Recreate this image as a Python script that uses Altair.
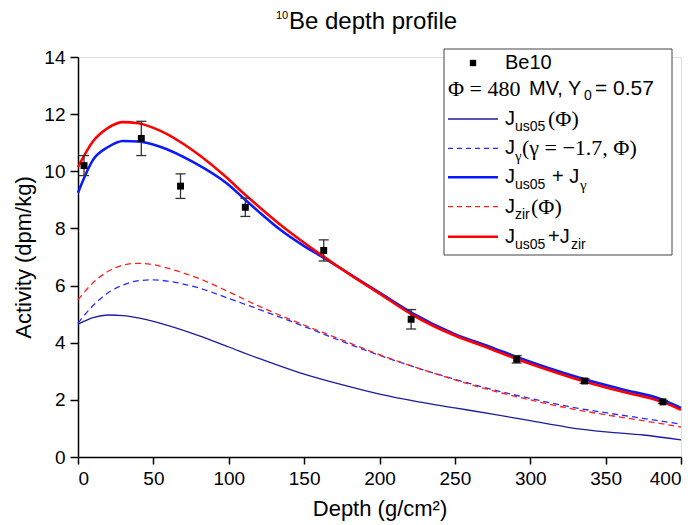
import altair as alt
import pandas as pd

# ---------------- data ----------------
# J_us05(Phi)  (thin navy line)
d_us05 = [0, 10, 20, 30, 40, 50, 60, 80, 100, 120, 150, 175, 200, 225, 250, 275, 300, 325, 350, 375, 400]
v_us05 = [4.65, 4.88, 4.97, 4.95, 4.87, 4.75, 4.6, 4.25, 3.85, 3.45, 2.9, 2.53, 2.2, 1.94, 1.72, 1.5, 1.27, 1.04, 0.88, 0.77, 0.6]

# J_gamma(gamma=-1.7, Phi)  (blue dashed)
d_gam = [0, 10, 20, 30, 40, 50, 60, 80, 100, 120, 150, 175, 200, 225, 250, 275, 300, 325, 350, 375, 400]
v_gam = [4.69, 5.3, 5.75, 6.02, 6.17, 6.2, 6.15, 5.92, 5.55, 5.17, 4.57, 4.05, 3.56, 3.12, 2.72, 2.36, 2.05, 1.77, 1.55, 1.35, 1.15]

# J_zir(Phi)  (red dashed)
d_zir = [0, 10, 20, 30, 40, 50, 60, 80, 100, 120, 150, 175, 200, 225, 250, 275, 300, 325, 350, 375, 400]
v_zir = [5.5, 6.1, 6.5, 6.72, 6.78, 6.73, 6.6, 6.25, 5.78, 5.28, 4.62, 4.1, 3.58, 3.12, 2.7, 2.32, 2.0, 1.71, 1.48, 1.27, 1.05]

# J_us05 + J_gamma (thick blue)
d_sumg = [0, 10, 20, 30, 40, 54, 76.5, 98.6, 110, 120, 134, 150, 162, 180, 200, 222, 250, 273, 291, 310, 336, 360, 388, 400]
v_sumg = [9.25, 10.4, 10.85, 11.06, 11.04, 10.87, 10.32, 9.58, 9.05, 8.58, 7.96, 7.38, 7.0, 6.41, 5.75, 5.03, 4.3, 3.86, 3.5, 3.15, 2.72, 2.38, 2.0, 1.72]

# J_us05 + J_zir (thick red)
d_sumz = [0, 10, 20, 30, 40, 54, 76.5, 98.6, 110, 120, 134, 150, 162, 180, 200, 222, 250, 273, 291, 310, 336, 360, 388, 400]
v_sumz = [10.15, 11.05, 11.52, 11.72, 11.68, 11.43, 10.72, 9.78, 9.22, 8.76, 8.14, 7.5, 7.05, 6.4, 5.72, 4.97, 4.25, 3.8, 3.43, 3.08, 2.64, 2.3, 1.92, 1.65]

# Be10 measurements
be_depth = [4, 42, 68, 111, 163, 221, 291, 336, 388]
be_act = [10.2, 11.15, 9.48, 8.74, 7.23, 4.82, 3.42, 2.66, 1.93]
be_err = [0.35, 0.6, 0.43, 0.32, 0.37, 0.34, 0.13, 0.08, 0.05]

x_ticks = list(range(0, 401, 25))
y_ticks = list(range(0, 15, 1))

SANS = "Liberation Sans"
SERIF = "Liberation Serif"

pts = pd.DataFrame({"depth": be_depth, "act": be_act, "err": be_err})
pts["lo"] = pts["act"] - pts["err"]
pts["hi"] = pts["act"] + pts["err"]

xscale = alt.Scale(domain=[0, 400], nice=False, zero=False)
yscale = alt.Scale(domain=[0, 14], nice=False, zero=False)

xaxis = alt.Axis(
    values=x_ticks,
    labelExpr="datum.value % 50 === 0 ? datum.label : ''",
    tickSize={"condition": {"test": "datum.value % 50 === 0", "value": 7}, "value": 4},
    title="Depth (g/cm²)",
    grid=False, domainColor="black", tickColor="black", domainWidth=1.5, tickWidth=1.5,
    labelFont=SANS, labelFontSize=19, labelColor="black", labelPadding=5,
    titleFont=SANS, titleFontSize=22, titleFontWeight="normal", titleColor="black", titlePadding=10,
)
yaxis = alt.Axis(
    values=y_ticks,
    labelExpr="datum.value % 2 === 0 ? datum.label : ''",
    tickSize={"condition": {"test": "datum.value % 2 === 0", "value": 8}, "value": 5},
    title="Activity (dpm/kg)",
    grid=False, domainColor="black", tickColor="black", domainWidth=1.5, tickWidth=1.5,
    labelFont=SANS, labelFontSize=19, labelColor="black", labelPadding=5,
    titleFont=SANS, titleFontSize=22, titleFontWeight="normal", titleColor="black", titlePadding=8,
)


def curve(d, v, color, width, dash=None):
    df = pd.DataFrame({"depth": d, "act": v})
    kw = dict(color=color, strokeWidth=width, interpolate="monotone")
    if dash:
        kw["strokeDash"] = dash
    return alt.Chart(df).mark_line(**kw).encode(
        x=alt.X("depth:Q", scale=xscale, axis=xaxis),
        y=alt.Y("act:Q", scale=yscale, axis=yaxis),
    )


l_us05 = curve(d_us05, v_us05, "#1c1c9c", 1.3)
l_gam = curve(d_gam, v_gam, "#2a2aff", 1.3, [6, 4])
l_sumg = curve(d_sumg, v_sumg, "#0a1aff", 2.6)
l_zir = curve(d_zir, v_zir, "#ff2020", 1.3, [6, 4])
l_sumz = curve(d_sumz, v_sumz, "#ff0000", 2.6)

base = alt.Chart(pts)
stems = base.mark_rule(color="#333333", strokeWidth=1.3).encode(
    x=alt.X("depth:Q", scale=xscale, axis=xaxis),
    y=alt.Y("lo:Q", scale=yscale, axis=yaxis),
    y2="hi:Q",
)
cap_lo = base.mark_tick(orient="horizontal", size=10, thickness=1.3, color="#333333", opacity=1).encode(
    x=alt.X("depth:Q", scale=xscale), y=alt.Y("lo:Q", scale=yscale)
)
cap_hi = base.mark_tick(orient="horizontal", size=10, thickness=1.3, color="#333333", opacity=1).encode(
    x=alt.X("depth:Q", scale=xscale), y=alt.Y("hi:Q", scale=yscale)
)
squares = base.mark_square(size=48, color="black", opacity=1).encode(
    x=alt.X("depth:Q", scale=xscale), y=alt.Y("act:Q", scale=yscale)
)

one = alt.Data(values=[{"k": 1}])

# ---------------- legend (decoration, pixel layout) ----------------
layers = []
layers.append(
    alt.Chart(one).mark_rect(fill="white", stroke="#444444", strokeWidth=1).encode(
        x=alt.value(366), x2=alt.value(594), y=alt.value(-8), y2=alt.value(198)
    )
)
layers.append(
    alt.Chart(one).mark_square(size=40, color="black", opacity=1).encode(x=alt.value(395), y=alt.value(6))
)

row_y = [62, 91.3, 120.3, 149.7, 179.7]
samples = [("#1c1c9c", 1.3, None), ("#2a2aff", 1.3, [5, 4]), ("#0a1aff", 2.6, None),
           ("#ff2020", 1.3, [5, 4]), ("#ff0000", 2.6, None)]
for (col, w, dash), yy in zip(samples, row_y):
    kw = dict(color=col, strokeWidth=w)
    if dash:
        kw["strokeDash"] = dash
    layers.append(
        alt.Chart(one).mark_rule(**kw).encode(x=alt.value(370), x2=alt.value(420), y=alt.value(yy))
    )

# (text, x, y, kind) kind: main / sub / serif
segments = [
    ("Be10", 427, 6, "main"),
    ("Φ = 480", 370, 31.5, "serif"),
    ("MV, Y", 451, 31.5, "main"),
    ("0", 506, 39, "sub"),
    ("= 0.57", 517, 31.5, "main21"),
    ("J", 427, row_y[0], "main"), ("us05", 437, row_y[0] + 8, "sub"), ("(Φ)", 470, row_y[0], "serif"),
    ("J", 427, row_y[1], "main"), ("γ", 437, row_y[1] + 8, "subserif"), ("(γ = −1.7, Φ)", 444, row_y[1], "serif"),
    ("J", 427, row_y[2], "main"), ("us05", 437, row_y[2] + 8, "sub"), ("+ J", 474, row_y[2], "main"),
    ("γ", 502, row_y[2] + 8, "subserif"),
    ("J", 427, row_y[3], "main"), ("zir", 437, row_y[3] + 8, "sub"), ("(Φ)", 453, row_y[3], "serif"),
    ("J", 427, row_y[4], "main"), ("us05", 437, row_y[4] + 8, "sub"), ("+J", 470, row_y[4], "main"),
    ("zir", 493, row_y[4] + 8, "sub"),
]
styles = {
    "main": dict(font=SANS, fontSize=20),
    "main21": dict(font=SANS, fontSize=21),
    "sub": dict(font=SANS, fontSize=14),
    "subserif": dict(font=SERIF, fontSize=15),
    "serif": dict(font=SERIF, fontSize=22),
}
for txt, xx, yy, kind in segments:
    layers.append(
        alt.Chart(one).mark_text(text=txt, align="left", baseline="middle", color="black", **styles[kind]).encode(
            x=alt.value(xx), y=alt.value(yy)
        )
    )

# ---------------- title ----------------
layers.append(
    alt.Chart(one).mark_text(text="10", align="left", baseline="alphabetic", font=SANS, fontSize=11,
                             color="black").encode(x=alt.value(198), y=alt.value(-38))
)
layers.append(
    alt.Chart(one).mark_text(text="Be depth profile", align="left", baseline="alphabetic", font=SANS,
                             fontSize=24, color="black").encode(x=alt.value(211), y=alt.value(-28.5))
)

chart = alt.layer(
    l_us05, l_gam, l_sumg, l_zir, l_sumz, stems, cap_lo, cap_hi, squares, *layers
).properties(
    width=603, height=400,
    autosize=alt.AutoSizeParams(type="none"),
    padding={"left": 78, "top": 57, "right": 16, "bottom": 68},
).configure_view(stroke=None).configure(background="white")

chart.save("out.html", embed_options={"renderer": "svg", "actions": False})
